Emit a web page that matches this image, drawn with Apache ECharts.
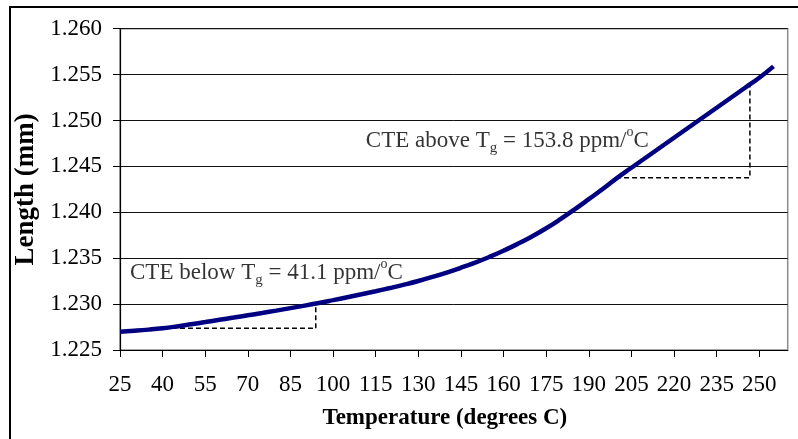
<!DOCTYPE html>
<html><head><meta charset="utf-8">
<script src="https://cdn.jsdelivr.net/npm/echarts@6/dist/echarts.min.js"></script>
<style>html,body{margin:0;padding:0;background:#fff}#c{width:798px;height:439px}</style>
</head><body><div id="c"></div>
<script>
const temps = [25,30,35,40,45,50,55,60,65,70,75,80,85,90,95,100,105,110,115,120,125,130,135,140,145,150,155,160,165,170,175,180,185,190,195,200,205,210,215,220,225,230,235,240,245,250,255];
const lengths = [1.22700,1.22710,1.22722,1.22737,1.22757,1.22780,1.22804,1.22829,1.22853,1.22878,1.22903,1.22929,1.22956,1.22983,1.23012,1.23043,1.23075,1.23107,1.23140,1.23175,1.23212,1.23252,1.23296,1.23344,1.23396,1.23452,1.23514,1.23582,1.23656,1.23737,1.23826,1.23925,1.24032,1.24143,1.24256,1.24375,1.24485,1.24594,1.24703,1.24812,1.24921,1.25030,1.25139,1.25248,1.25357,1.25466,1.25590];
const xTicks = [25,40,55,70,85,100,115,130,145,160,175,190,205,220,235,250];
// dashed slope guides
const belowTgGuide = [[46.1,1.22736],[93.9,1.22736],[93.9,1.23009]];
const aboveTgGuide = [[199.6,1.24377],[246.7,1.24377],[246.7,1.25405]];
// annotation anchors (data coords) and texts
const annotAnchors = [[28.5,1.23344],[111.5,1.24779]];
const annotTexts = [
  '{a|CTE below T}{sub|g}{a| = 41.1 ppm/}{sup|o}{a|C}',
  '{a|CTE above T}{sub|g}{a| = 153.8 ppm/}{sup|o}{a|C}'
];

const FONT = "'Liberation Serif','Times New Roman',serif";
const chart = echarts.init(document.getElementById('c'), null, {renderer:'canvas'});
const richStyle = {
  a:{fontFamily:FONT,fontSize:23,color:'#000',lineHeight:30},
  sub:{fontFamily:FONT,fontSize:15,color:'#000',lineHeight:14,verticalAlign:'bottom'},
  sup:{fontFamily:FONT,fontSize:14,color:'#000',lineHeight:26,verticalAlign:'top'}
};
chart.setOption({
  animation:false,
  backgroundColor:'#fff',
  graphic:[{type:'rect',shape:{x:10,y:7,width:800,height:440},style:{fill:null,stroke:'#000',lineWidth:2},silent:true,z:100}],
  grid:{left:120,right:10.3,top:28.7,bottom:89,show:true,borderColor:'#8c8c8c',borderWidth:1.5,backgroundColor:'transparent'},
  xAxis:{
    type:'value',min:25,max:260,interval:15,
    name:'Temperature (degrees C)',nameLocation:'middle',nameGap:57,
    nameTextStyle:{fontFamily:FONT,fontSize:23,fontWeight:'bold',color:'#000',padding:[0,18,0,0]},
    axisLine:{show:true,onZero:false,lineStyle:{color:'#000',width:1.2}},
    axisTick:{show:true,length:7,customValues:xTicks,lineStyle:{color:'#000'}},
    axisLabel:{fontFamily:FONT,fontSize:23,color:'#000',margin:23,customValues:xTicks},
    splitLine:{show:false}
  },
  yAxis:{
    type:'value',min:1.225,max:1.260,interval:0.005,
    name:'Length (mm)',nameLocation:'middle',nameGap:68,
    nameTextStyle:{fontFamily:FONT,fontSize:27,fontWeight:'bold',color:'#000'},
    axisLine:{show:true,onZero:false,lineStyle:{color:'#000',width:1.2}},
    axisTick:{show:true,length:7,lineStyle:{color:'#000'}},
    axisLabel:{fontFamily:FONT,fontSize:23,color:'#000',margin:18,formatter:v=>v.toFixed(3)},
    splitLine:{show:true,lineStyle:{color:'#111',width:1}}
  },
  series:[
    {type:'line',data:belowTgGuide,symbol:'none',silent:true,z:2,lineStyle:{color:'#000',width:1.5,type:[5,3]}},
    {type:'line',data:aboveTgGuide,symbol:'none',silent:true,z:2,lineStyle:{color:'#000',width:1.5,type:[5,3]}},
    {type:'line',data:temps.map((t,i)=>[t,lengths[i]]),symbol:'none',smooth:true,z:3,
     lineStyle:{color:'#000080',width:4.5}},
    {type:'scatter',symbolSize:0.1,itemStyle:{color:'transparent'},z:4,silent:true,
     data:annotAnchors.map((p,i)=>({value:p,label:{show:true,position:'right',distance:0,formatter:annotTexts[i],rich:richStyle}}))}
  ]
});
</script></body></html>
